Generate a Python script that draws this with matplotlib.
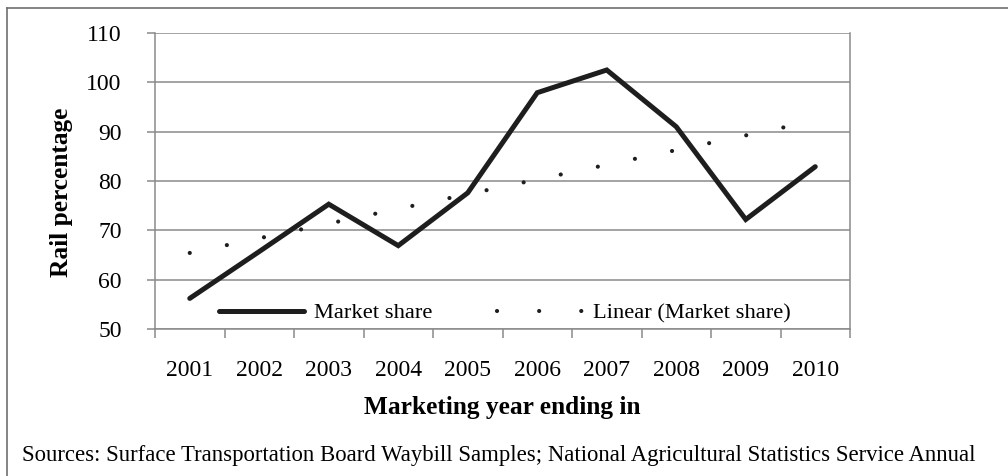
import numpy as np
import matplotlib
matplotlib.use('Agg')
from matplotlib import pyplot as plt
from matplotlib.lines import Line2D

plt.rcParams['font.family'] = ['Liberation Serif', 'DejaVu Serif']

# data
years = ['2001', '2002', '2003', '2004', '2005', '2006', '2007', '2008', '2009', '2010']
market_share = [56.2, 65.7, 75.3, 66.9, 77.6, 97.9, 102.5, 91.0, 72.2, 82.9]
y_ticks = [50, 60, 70, 80, 90, 100, 110]
source_text = ('Sources: Surface Transportation Board Waybill Samples; '
               'National Agricultural Statistics Service Annual')

W, H = 1008, 476
fig = plt.figure(figsize=(W / 100, H / 100), dpi=100)
ax = fig.add_axes([155 / W, 1 - 329 / H, 695 / W, 296 / H])

x = np.arange(len(years))
# linear trend (Excel style trendline)
k, b = np.polyfit(x, market_share, 1)
trend = k * x + b

dark = '#1e1e1e'
grey = '#8a8a8a'

ax.plot(x, market_share, color=dark, lw=3.6, solid_capstyle='round',
        solid_joinstyle='miter', zorder=3)
ax.plot(x, trend, color=dark, lw=3.0, linestyle=(0, (0.01, 9.09)),
        dash_capstyle='round', zorder=3)

ax.set_xlim(-0.5, len(years) - 0.5)
ax.set_ylim(50, 110)
ax.set_yticks(y_ticks)
ax.set_yticklabels([str(v) for v in y_ticks], fontsize=17)
ax.set_xticks(x)
ax.set_xticklabels(years, fontsize=17)
ax.set_xticks(np.arange(-0.5, len(years)), minor=True)
ax.tick_params(axis='x', which='major', length=0, pad=22)
ax.tick_params(axis='x', which='minor', length=6.5, width=1.1, color=grey,
               direction='out')
ax.tick_params(axis='y', length=6, width=1.1, color=grey, pad=18)

ax.yaxis.grid(True, color=grey, lw=1.1)
ax.set_axisbelow(True)
for s in ['top', 'right', 'left', 'bottom']:
    ax.spines[s].set_color(grey)
    ax.spines[s].set_linewidth(1.1)
ax.spines['top'].set_visible(False)

ax.set_ylabel('Rail percentage', fontsize=18.3, fontweight='bold')
ax.yaxis.set_label_coords(-0.118, 0.463)
ax.set_xlabel('Marketing year ending in', fontsize=18.3, fontweight='bold',
              labelpad=11)

# legend proxies (Excel legend shows the dots a bit wider apart)
h_share = Line2D([], [], color=dark, lw=3.6, solid_capstyle='round')
h_trend = Line2D([], [], color=dark, lw=3.0, linestyle=(0, (0.01, 10.1)),
                 dash_capstyle='round')
leg = ax.legend([h_share, h_trend], ['Market share', 'Linear (Market share)'],
                loc='center', bbox_to_anchor=(0.503, 0.054), ncol=2,
                frameon=False, fontsize=16.2, handlelength=3.8,
                handletextpad=0.45, columnspacing=2.85, borderpad=0)

fig.text(22 / W, 1 - 456 / H, source_text, fontsize=16.4, va='center', ha='left')

# outer chart border (cropped at right and bottom)
fig.add_artist(Line2D([7 / W, 1.0], [1 - 8 / H, 1 - 8 / H], color='#707070', lw=1.2))
fig.add_artist(Line2D([7 / W, 7 / W], [0.0, 1 - 8 / H], color='#707070', lw=1.2))

fig.savefig('out.png', dpi=100)
